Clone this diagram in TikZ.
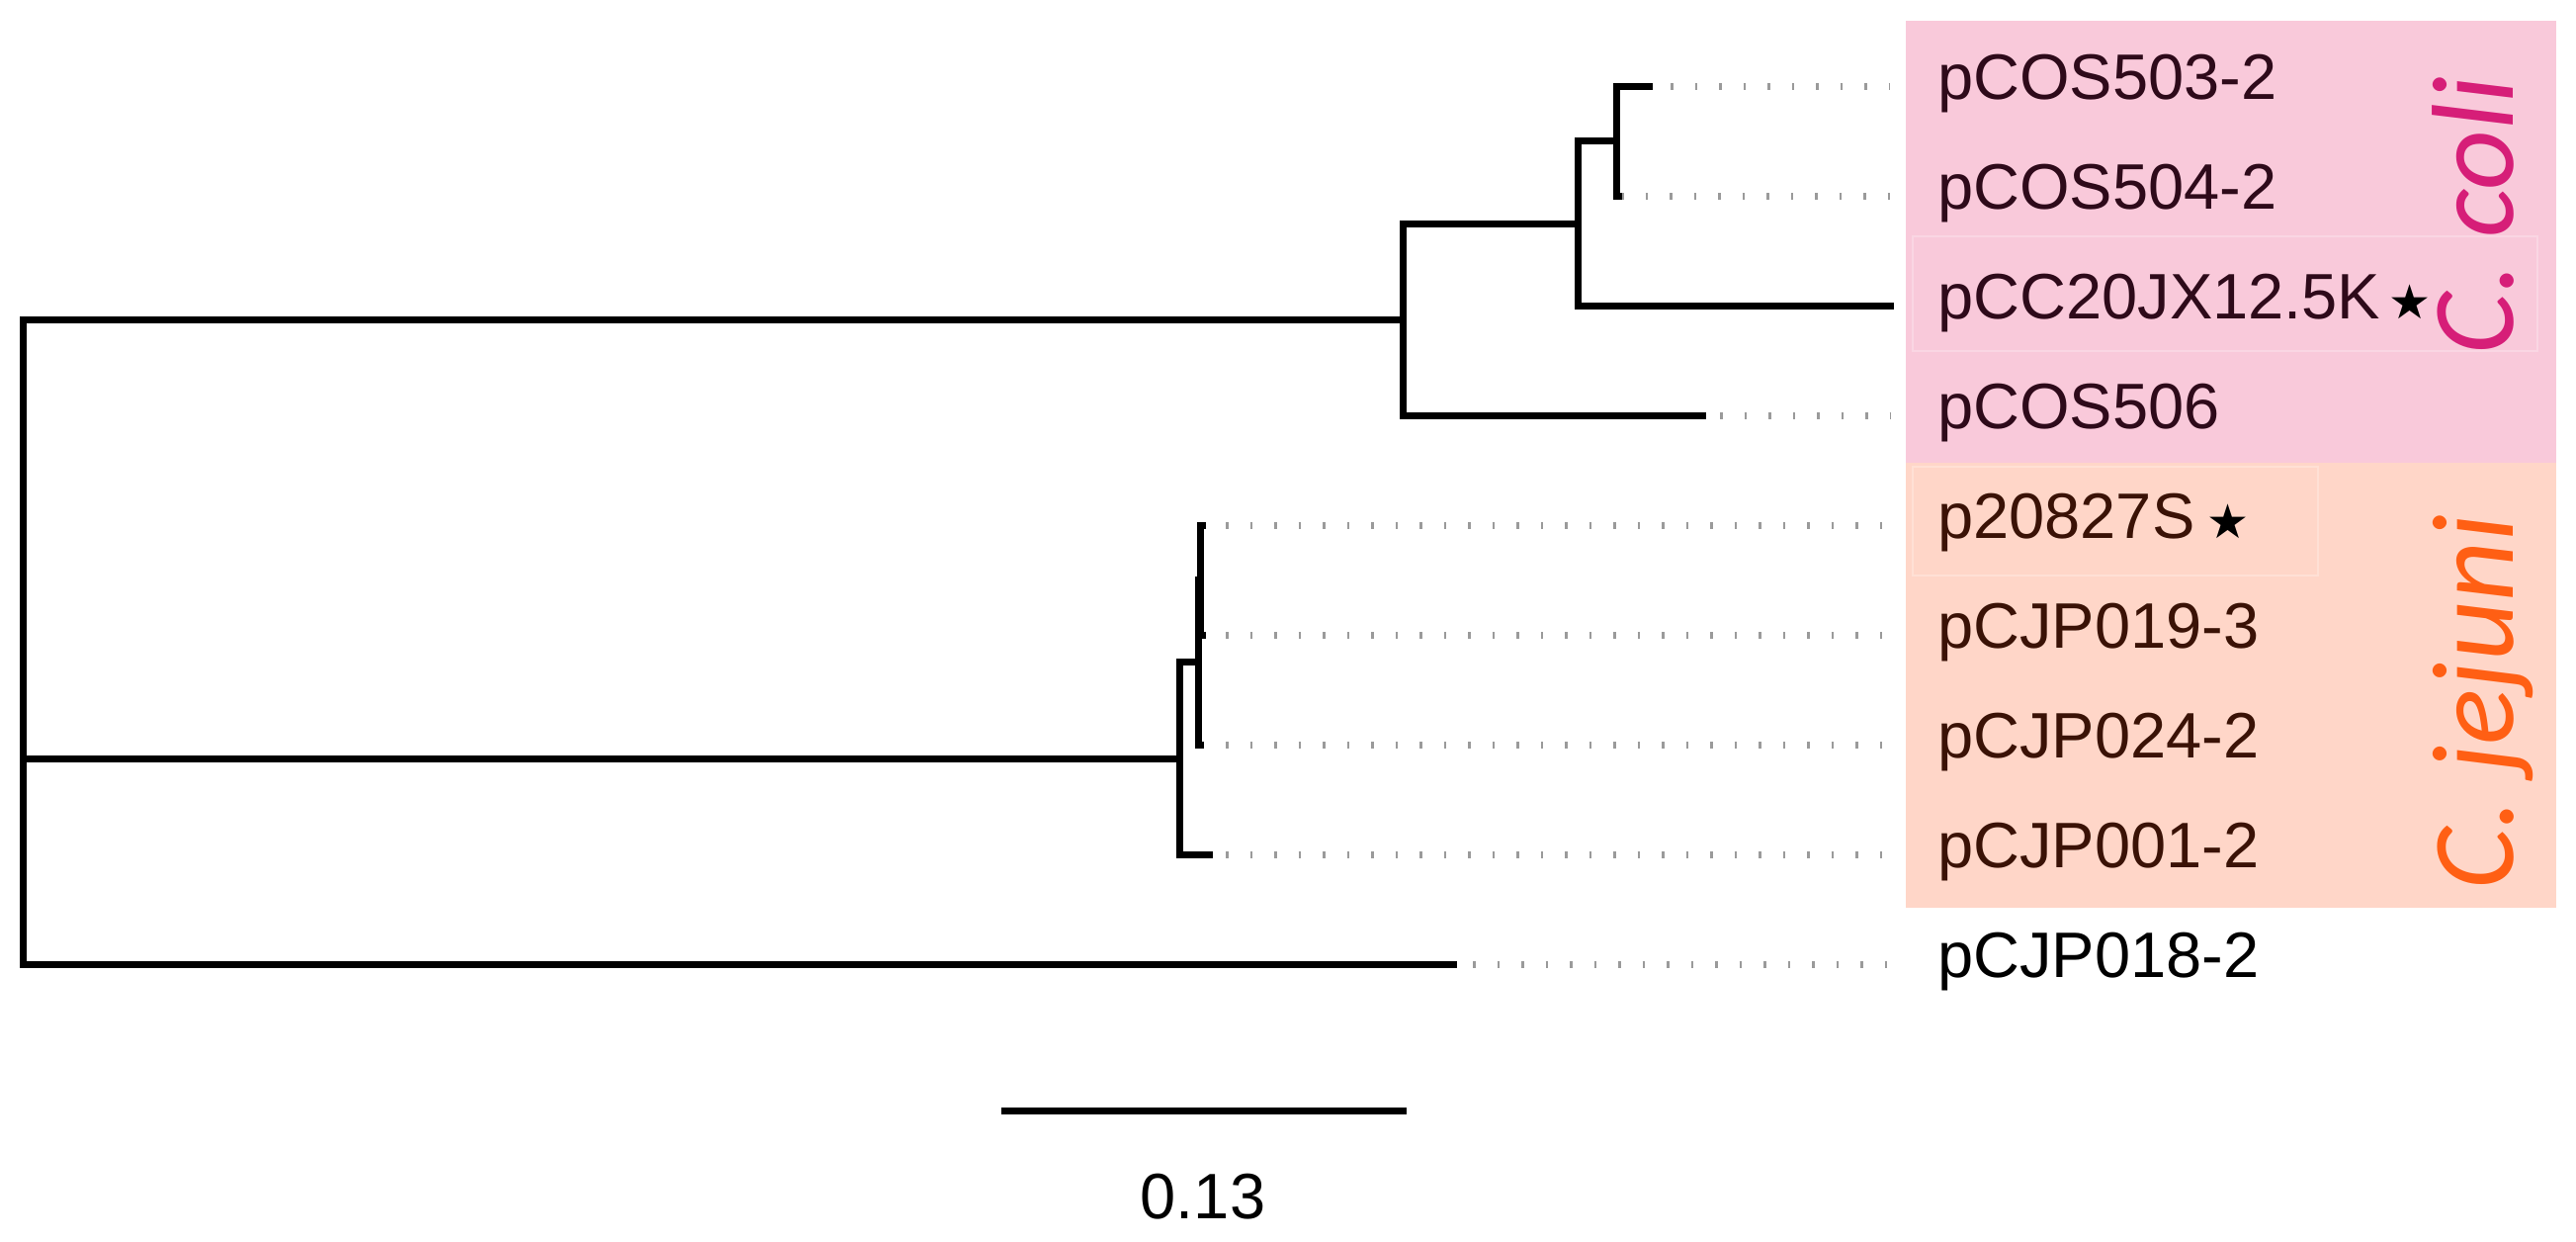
\documentclass[tikz,border=0pt]{standalone}
\usepackage{fontspec}
\setmainfont{Liberation Sans}
\newfontfamily\symfont{DejaVu Sans}
\newfontfamily\specfont{Carlito}
\definecolor{colibg}{HTML}{F9C9DA}
\definecolor{jejbg}{HTML}{FFD6C8}
\definecolor{colitx}{HTML}{2E0A1A}
\definecolor{jejtx}{HTML}{3A1206}
\definecolor{colisp}{HTML}{D61E78}
\definecolor{jejsp}{HTML}{FF5F14}
\definecolor{tick}{HTML}{9A9A9A}
\begin{document}
\begin{tikzpicture}[x=1pt,y=-1pt,
  branch/.style={line width=7pt,line cap=rect,line join=miter,black},
  dotline/.style={tick,line width=7pt,dash pattern=on 2.5pt off 22pt},
  lab/.style={anchor=base west,inner sep=0pt,font=\fontsize{65}{78}\selectfont},
  spec/.style={anchor=base,rotate=90,inner sep=0pt,font=\specfont\itshape\fontsize{118}{130}\selectfont},
  faint/.style={draw=white,draw opacity=0.25,line width=1.5pt}]
\useasboundingbox (0,0) rectangle (2606,1255);
% backgrounds
\fill[colibg] (1928,21) rectangle (2586,468);
\fill[jejbg] (1928,468) rectangle (2586,918);
\draw[faint] (1935,239) rectangle (2567,355);
\draw[faint] (1935,472) rectangle (2345,582);
% internal nodes
\coordinate (root) at (23,649);
\coordinate (c3) at (1419,323);
\coordinate (c2) at (1596,226);
\coordinate (c1) at (1635,142.5);
\coordinate (j3) at (1193,767);
\coordinate (j2) at (1212,669);
\coordinate (j1) at (1214,586);
% tips
\coordinate (t1) at (1668,87);
\coordinate (t2) at (1637,198);
\coordinate (t3) at (1912,309);
\coordinate (t4) at (1722,420);
\coordinate (t5) at (1216,531);
\coordinate (t6) at (1216,642);
\coordinate (t7) at (1214,753);
\coordinate (t8) at (1223,864);
\coordinate (t9) at (1470,975);
% dotted ends
\coordinate (d1) at (1912,87);
\coordinate (d2) at (1912,198);
\coordinate (d4) at (1912,420);
\coordinate (d5) at (1912,531);
\coordinate (d6) at (1912,642);
\coordinate (d7) at (1912,753);
\coordinate (d8) at (1912,864);
\coordinate (d9) at (1912,975);
% dotted lines
\draw[dotline] ([xshift=22pt]t1) -- (d1);
\draw[dotline] ([xshift=3pt]t2) -- (d2);
\draw[dotline] ([xshift=18pt]t4) -- (d4);
\draw[dotline] ([xshift=24pt]t5) -- (d5);
\draw[dotline] ([xshift=24pt]t6) -- (d6);
\draw[dotline] ([xshift=26pt]t7) -- (d7);
\draw[dotline] ([xshift=17pt]t8) -- (d8);
\draw[dotline] ([xshift=20pt]t9) -- (d9);
% branches
\draw[branch] (root) |- (c3);
\draw[branch] (root) |- (j3);
\draw[branch] (root) |- (t9);
\draw[branch] (c3) |- (c2);
\draw[branch] (c3) |- (t4);
\draw[branch] (c2) |- (c1);
\draw[branch] (c2) |- (t3);
\draw[branch] (c1) |- (t1);
\draw[branch] (c1) |- (t2);
\draw[branch] (j3) |- (j2);
\draw[branch] (j3) |- (t8);
\draw[branch] (j2) |- (j1);
\draw[branch] (j2) |- (t7);
\draw[branch] (j1) |- (t5);
\draw[branch] (j1) |- (t6);
% labels
\node[lab,text=colitx] (l1) at (1960,100) {pCOS503-2};
\node[lab,text=colitx] (l2) at (1960,211) {pCOS504-2};
\node[lab,text=colitx] (l3) at (1960,322) {pCC20JX12.5K\hspace{8pt}{\symfont\fontsize{48}{50}\selectfont\textcolor{black}{★}}};
\node[lab,text=colitx] (l4) at (1960,433) {pCOS506};
\node[lab,text=jejtx] (l5) at (1960,544) {p20827S\hspace{12pt}{\symfont\fontsize{48}{50}\selectfont\textcolor{black}{★}}};
\node[lab,text=jejtx] (l6) at (1960,655) {pCJP019-3};
\node[lab,text=jejtx] (l7) at (1960,766) {pCJP024-2};
\node[lab,text=jejtx] (l8) at (1960,877) {pCJP001-2};
\node[lab,text=black] (l9) at (1960,988) {pCJP018-2};
% species
\node[spec,text=colisp] (sc) at (2542,218) {C. coli};
\node[spec,text=jejsp] (sj) at (2542,710) {C. jejuni};
% scale bar
\coordinate (s1) at (1013,1123);
\coordinate (s2) at (1423,1123);
\draw[branch,line cap=butt] (s1) -- (s2);
\node[anchor=base,inner sep=0pt,font=\fontsize{65}{78}\selectfont] (sl) at (1217,1232) {0.13};
\end{tikzpicture}
\end{document}
